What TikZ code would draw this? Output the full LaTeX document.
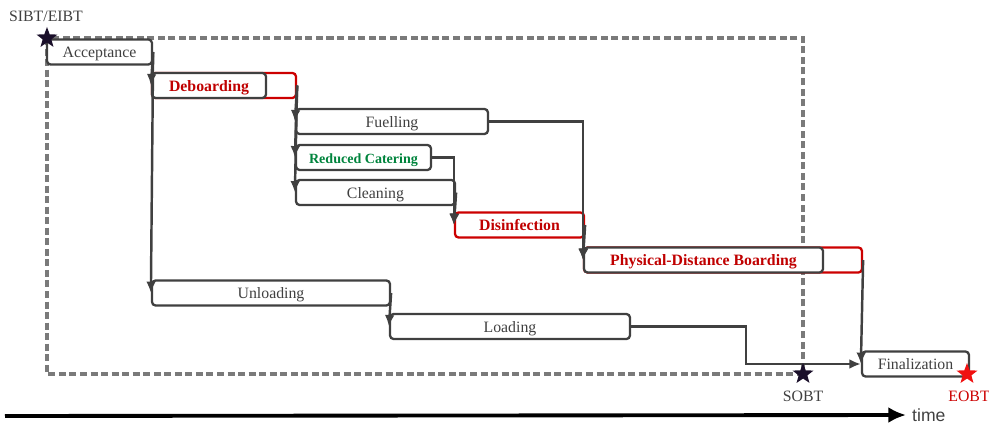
\documentclass[tikz,border=0pt]{standalone}
\usepackage{fontspec}
\setmainfont{Liberation Serif}
\setsansfont{Liberation Sans}
\usetikzlibrary{arrows.meta,shapes.geometric}

\definecolor{boxgray}{HTML}{404040}
\definecolor{redline}{HTML}{CC0000}
\definecolor{redtext}{HTML}{C00000}
\definecolor{catgreen}{HTML}{00843D}
\definecolor{dashgray}{HTML}{7A7A7A}
\definecolor{starnavy}{HTML}{1A0F2A}
\definecolor{starred}{HTML}{F01010}

\tikzset{
  task/.style={draw=boxgray, line width=1.3pt, rounded corners=2pt, fill=white,
    minimum height=0.5cm, inner sep=0pt, text=boxgray,
    text height=7.5pt, text depth=0.7pt,
    font=\fontsize{9}{10}\selectfont},
  redtask/.style={task, draw=redline, text=redtext,
    font=\fontsize{9}{10}\selectfont\bfseries},
  redtail/.style={draw=redline, line width=1.3pt, rounded corners=2pt,
    minimum height=0.5cm, inner sep=0pt},
  conn/.style={draw=boxgray, line width=1.4pt},
  dashbox/.style={draw=dashgray, line width=2pt, dash pattern=on 4pt off 2pt},
  mstar/.style={star, star points=5, star point ratio=2.4, minimum size=0.44cm,
    inner sep=0pt, fill=starnavy},
  tlabel/.style={font=\fontsize{9}{10}\selectfont, text=boxgray}
}

\begin{document}
\begin{tikzpicture}[x=0.02cm, y=-0.02cm, >={Latex[length=6.5pt,width=5.5pt]}]
\useasboundingbox (0,0) rectangle (989,425);

% milestones box
\coordinate (sibtpt) at (47,38);
\coordinate (sobtpt) at (803,374);
\draw[dashbox] (sibtpt) rectangle (sobtpt);

% tasks
\node[task, minimum width=2.1cm] (acc) at (99.5,52) {Acceptance};
\node[redtail, minimum width=2.88cm] (debx) at (224,85.5) {};
\node[redtask, draw=boxgray, minimum width=2.28cm] (deb) at (209,85.5) {Deboarding};
\node[task, minimum width=3.84cm] (fuel) at (392,121.5) {Fuelling};
\node[task, minimum width=2.7cm, text=catgreen,
  font=\fontsize{8}{9}\selectfont\bfseries] (cat) at (363.5,157.5) {Reduced Catering};
\node[task, minimum width=3.18cm] (clean) at (375.5,192.5) {Cleaning};
\node[redtask, minimum width=2.58cm] (dis) at (519.5,225) {Disinfection};
\node[redtail, minimum width=5.56cm] (pdbx) at (723,260) {};
\node[redtask, draw=boxgray, minimum width=4.78cm] (pdb) at (703.5,260) {Physical-Distance Boarding};
\node[task, minimum width=4.76cm] (unl) at (271,293) {Unloading};
\node[task, minimum width=4.8cm] (load) at (510,326.5) {Loading};
\node[task, minimum width=2.14cm] (fin) at (915.5,364) {Finalization};

% dependencies
\draw[conn,->] (acc.east) -- (deb.west);
\draw[conn,->] (acc.east) -- (unl.west);
\draw[conn,->] (debx.east) -- (fuel.west);
\draw[conn,->] (debx.east) -- (cat.west);
\draw[conn,->] (debx.east) -- (clean.west);
\draw[conn,->] (cat.east) -| (dis.west);
\draw[conn,->] (clean.east) -- (dis.west);
\draw[conn,->] (fuel.east) -| (pdbx.west);
\draw[conn,->] (dis.east) -- (pdbx.west);
\draw[conn,->] (pdbx.east) -- (fin.west);
\draw[conn,->] (unl.east) -- (load.west);
\draw[conn,->] (load.east) -- ++(115,0) |- (fin.west);

% stars
\node[mstar] (sibt) at (sibtpt) {};
\node[mstar] (sobt) at (sobtpt) {};
\node[mstar, fill=starred] (eobt) at (967,374) {};
\node[tlabel] (sibtlab) at (46,16) {SIBT/EIBT};
\node[tlabel] (sobtlab) at (803,396) {SOBT};
\node[tlabel, text=redline] (eobtlab) at (969,396) {EOBT};

% time axis
\coordinate (t0) at (5,416);
\node[anchor=west, font=\sffamily\fontsize{10}{12}\selectfont, text=boxgray] (time) at (906,415) {time};
\draw[line width=2.2pt, -{Latex[length=10pt,width=9pt]}] (t0) -- (time.west);
\end{tikzpicture}
\end{document}
